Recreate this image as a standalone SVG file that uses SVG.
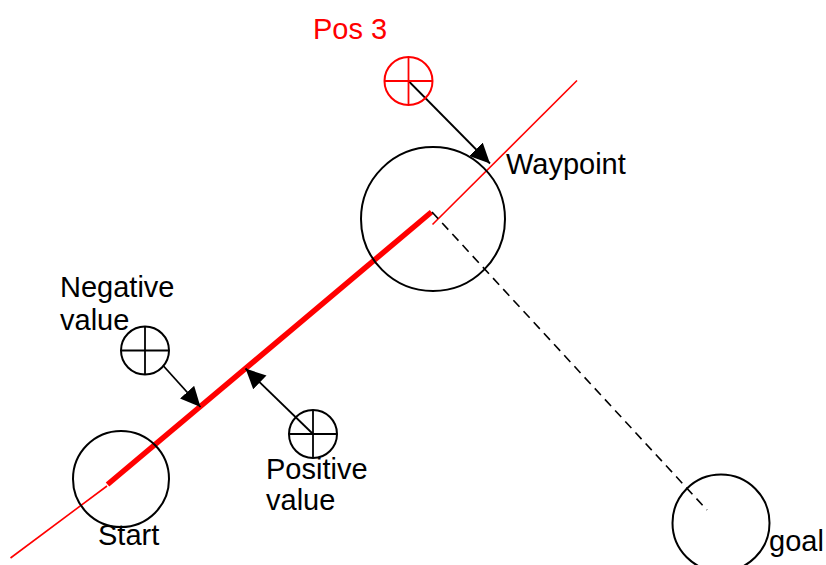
<svg xmlns="http://www.w3.org/2000/svg" width="826" height="565" viewBox="0 0 826 565">
  <style>
    .ring { fill: none; stroke: #000; stroke-width: 2; }
    .cross { stroke: #000; stroke-width: 1.8; }
    .red-ring { fill: none; stroke: #ff0000; stroke-width: 2; }
    .red-cross { stroke: #ff0000; stroke-width: 1.8; }
    .label { font-family: "Liberation Sans", Arial, sans-serif; font-size: 29px; fill: #000; }
    .red-label { fill: #ff0000; }
    .path-thin { stroke: #ff0000; stroke-width: 1.6; fill: none; }
    .path-thick { stroke: #ff0000; stroke-width: 5.5; fill: none; }
    .dashed { stroke: #000; stroke-width: 1.6; stroke-dasharray: 9 6; fill: none; }
    .arrow { stroke: #000; stroke-width: 1.8; fill: none; marker-end: url(#head); }
  </style>
  <defs>
    <marker id="head" markerUnits="userSpaceOnUse" markerWidth="22" markerHeight="20" refX="20" refY="9.5" orient="auto">
      <path d="M0,0 L20,9.5 L0,19 Z" fill="#000"/>
    </marker>
  </defs>
  <rect width="826" height="565" fill="#fff"/>

  <!-- connectors: planned route, offsets and projection -->
  <g id="connectors">
    <line class="path-thin" x1="10.5" y1="558" x2="107" y2="486"/>
    <line class="path-thin" x1="432.5" y1="224.5" x2="577" y2="80.5"/>
    <line class="path-thick" x1="107.5" y1="484.5" x2="431.5" y2="212"/>
    <line class="dashed" x1="432" y1="212" x2="707" y2="510"/>
    <line class="arrow" x1="163.5" y1="366" x2="200.5" y2="407"/>
    <line class="arrow" x1="313" y1="434" x2="245.5" y2="368.5"/>
    <line class="arrow" x1="408.5" y1="81" x2="490" y2="163.5"/>
  </g>

  <g id="start">
    <circle class="ring" cx="121" cy="479" r="48"/>
    <text class="label" x="98" y="545">Start</text>
  </g>

  <g id="waypoint">
    <circle class="ring" cx="433" cy="219" r="72"/>
    <text class="label" x="506" y="174">Waypoint</text>
  </g>

  <g id="goal">
    <circle class="ring" cx="721" cy="523" r="48.5"/>
    <text class="label" x="769" y="551">goal</text>
  </g>

  <g id="negative">
    <circle class="ring" cx="145" cy="350.5" r="24"/>
    <line class="cross" x1="121" y1="350.5" x2="169" y2="350.5"/>
    <line class="cross" x1="145" y1="326.5" x2="145" y2="374.5"/>
    <text class="label" x="60" y="297">Negative</text>
    <text class="label" x="60" y="330">value</text>
  </g>

  <g id="positive">
    <circle class="ring" cx="313" cy="434" r="24"/>
    <line class="cross" x1="289" y1="434" x2="337" y2="434"/>
    <line class="cross" x1="313" y1="410" x2="313" y2="458"/>
    <text class="label" x="266" y="479">Positive</text>
    <text class="label" x="266" y="510">value</text>
  </g>

  <g id="pos3">
    <circle class="red-ring" cx="408.5" cy="81" r="24"/>
    <line class="red-cross" x1="384.5" y1="81" x2="432.5" y2="81"/>
    <line class="red-cross" x1="408.5" y1="57" x2="408.5" y2="105"/>
    <text class="label red-label" x="313" y="39">Pos 3</text>
  </g>
</svg>
